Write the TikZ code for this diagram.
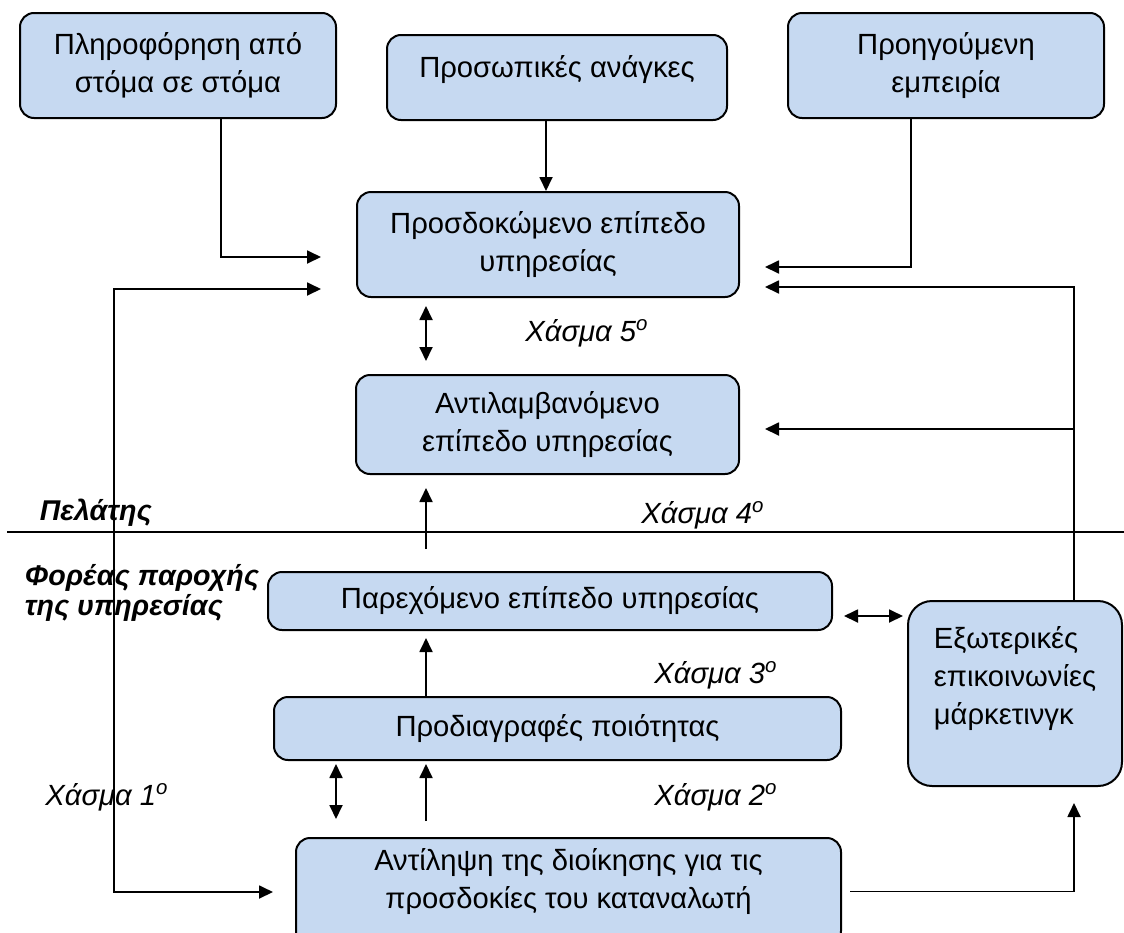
\documentclass[tikz,border=0pt]{standalone}
\usepackage{fontspec}
\setmainfont{Liberation Sans}
\usetikzlibrary{arrows.meta, positioning, calc}
\definecolor{boxblue}{HTML}{C6D9F1}

\begin{document}
\begin{tikzpicture}[
  x=0.5pt, y=-0.5pt, >={Triangle[length=7pt,width=6.5pt]}, line width=0.9pt,
  every node/.style={font=\fontsize{14.6}{19}\selectfont},
  box/.style={draw, line width=1pt, fill=boxblue, rounded corners=7pt, align=center},
  gap/.style={font=\fontsize{14.6}{19}\selectfont\itshape},
  side/.style={font=\fontsize{14.3}{15}\selectfont\bfseries\itshape, align=left, inner sep=0pt}
]
  \useasboundingbox (0,0) rectangle (1124,932);
  % customer side
  \node[box, minimum width=158pt, minimum height=52.5pt] (wom) at (178,65.5) {Πληροφόρηση από\\στόμα σε στόμα};
  \node[box, minimum width=170pt, minimum height=42.5pt, text depth=11pt] (needs) at (557,77.5) {Προσωπικές ανάγκες};
  \node[box, minimum width=158pt, minimum height=52.5pt] (past) at (946,65.5) {Προηγούμενη\\εμπειρία};
  \node[box, minimum width=191pt, minimum height=52.5pt] (exp) at (548,244.5) {Προσδοκώμενο επίπεδο\\υπηρεσίας};
  \node[box, minimum width=191.5pt, minimum height=49.5pt] (perc) at (547.5,424.5) {Αντιλαμβανόμενο\\επίπεδο υπηρεσίας};
  % provider side
  \node[box, minimum width=282pt, minimum height=29pt] (del) at (550,601) {Παρεχόμενο επίπεδο υπηρεσίας};
  \node[box, minimum width=283.5pt, minimum height=31.5pt] (spec) at (557.5,728.5) {Προδιαγραφές ποιότητας};
  \node[box, minimum width=272.5pt, minimum height=53.5pt, text depth=13pt] (mgmt) at (568.5,891.5) {Αντίληψη της διοίκησης για τις\\προσδοκίες του καταναλωτή};
  \node[box, rounded corners=12pt, align=left, minimum width=107pt, minimum height=92.5pt, text depth=18pt] (mkt) at (1015,693.5) {Εξωτερικές\\επικοινωνίες\\μάρκετινγκ};

  % gaps and sides
  \node[gap] (g5) at (587,333) {Χάσμα 5\textsuperscript{o}};
  \node[gap] (g4) at (703,515) {Χάσμα 4\textsuperscript{o}};
  \node[gap] (g3) at (716,675) {Χάσμα 3\textsuperscript{o}};
  \node[gap] (g2) at (716,797) {Χάσμα 2\textsuperscript{o}};
  \node[gap] (g1) at (107,797) {Χάσμα 1\textsuperscript{o}};
  \node[side, anchor=west] (cust) at (39,513) {Πελάτης};
  \node[side, anchor=west] (prov) at (24,593) {Φορέας παροχής\\της υπηρεσίας};
  \draw (7,532) -- (1124,532);

  \coordinate (womend) at (321,257);
  \coordinate (pastend) at (765,267);
  \coordinate (mktD) at (765,287);
  \coordinate (mktE) at (765,429);
  \coordinate (gap1top) at (321,289);
  \coordinate (gap1bot) at (273,892);
  \coordinate (axis) at (426,0);
  \coordinate (axisb) at (336,0);

  \draw[->] ([xshift=21.5pt]wom.south) |- (womend);
  \draw[->] ([xshift=-5.5pt]needs.south) -- ([xshift=-5.5pt]needs.south |- exp.north);
  \draw[->] ([xshift=-17.5pt]past.south) |- (pastend);
  \draw[->] ([xshift=29.5pt]mkt.north) |- (mktD);
  \draw[->] ([xshift=29.5pt]mkt.north |- mktE) -- (mktE);
  \draw[<->] (gap1top) -- ++(-207,0) |- (gap1bot);
  \draw[<->] ($(axis |- exp.south)+(0,8)$) -- ($(axis |- perc.north)+(0,-13)$);
  \draw[->] ($(axis |- del.north)+(0,-22)$) -- ($(axis |- perc.south)+(0,13)$);
  \draw[->] (axis |- spec.north) -- ($(axis |- del.south)+(0,7)$);
  \draw[<->] ($(axisb |- spec.south)+(0,3)$) -- ($(axisb |- mgmt.north)+(0,-18)$);
  \draw[->] ($(axis |- mgmt.north)+(0,-16)$) -- ($(axis |- spec.south)+(0,3)$);
  \draw[<->] ($(del.east)+(11,15)$) -- ($(mkt.west |- del.east)+(-4,15)$);
  \draw[->] ($(mgmt.east)+(8,0)$) -| ($(mkt.south)+(59,16)$);
\end{tikzpicture}
\end{document}
